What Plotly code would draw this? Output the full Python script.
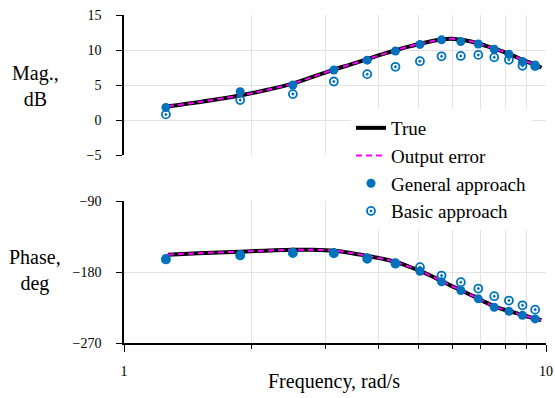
import plotly.graph_objects as go

# Frequency response: magnitude (dB) and phase (deg) versus frequency (rad/s)

# Smooth model curves
curve_freq = [1.27, 1.5, 1.885, 2.2, 2.513, 2.8, 3.142, 3.45, 3.770, 4.1, 4.398, 4.7, 5.027,
              5.35, 5.655, 5.95, 6.283, 6.6, 6.912, 7.2, 7.540, 7.85, 8.168, 8.5, 8.796,
              9.1, 9.425, 9.75]
true_mag = [1.95, 2.55, 3.5, 4.35, 5.2, 6.15, 7.2, 7.95, 8.7, 9.4, 9.95, 10.45, 10.9,
            11.25, 11.5, 11.6, 11.45, 11.25, 10.95, 10.6, 10.2, 9.85, 9.45, 9.0, 8.6,
            8.25, 7.95, 7.45]
true_phase = [-158.0, -156.2, -154.2, -152.8, -151.8, -151.8, -153.0, -155.8, -159.5, -163.2,
              -167.0, -172.5, -178.5, -185.0, -191.5, -197.2, -203.0, -208.5, -213.5, -218.5,
              -223.5, -226.8, -229.5, -232.2, -234.5, -236.8, -239.0, -241.0]
oe_mag = [1.95, 2.55, 3.5, 4.35, 5.2, 6.15, 7.2, 7.95, 8.7, 9.4, 9.95, 10.45, 10.9,
          11.25, 11.5, 11.6, 11.45, 11.25, 10.95, 10.6, 10.2, 9.85, 9.45, 9.0, 8.6,
          8.25, 7.95, 7.45]
oe_phase = [-158.0, -156.2, -154.2, -152.8, -151.8, -151.8, -153.0, -155.8, -159.5, -163.2,
            -167.0, -172.5, -178.5, -185.0, -191.5, -197.2, -203.0, -208.5, -213.5, -218.5,
            -223.5, -226.8, -229.5, -232.2, -234.5, -236.8, -239.0, -241.0]

# Estimated points
est_freq = [1.257, 1.885, 2.513, 3.142, 3.770, 4.398, 5.027, 5.655, 6.283, 6.912,
            7.540, 8.168, 8.796, 9.425]
general_mag = [1.8, 4.05, 5.0, 7.15, 8.55, 9.85, 10.8, 11.45, 11.2, 10.85,
               10.1, 9.4, 8.35, 7.85]
basic_mag = [0.8, 2.85, 3.7, 5.5, 6.55, 7.6, 8.4, 9.1, 9.15, 9.3,
             8.95, 8.6, 7.75, 7.7]
general_phase = [-162.8, -157.8, -154.8, -155.2, -162.0, -168.3, -179.0, -192.5, -203.5, -214.0,
                 -224.7, -229.8, -234.9, -239.5]
basic_phase = [-164.1, -159.0, -156.1, -156.4, -163.2, -169.5, -173.9, -184.5, -192.9, -201.0,
               -210.7, -216.2, -222.2, -227.7]

mag_ticks = [-5, 0, 5, 10, 15]
phase_ticks = [-270, -180, -90]
minor_freq = [2, 3, 4, 5, 6, 7, 8, 9]

BLUE = "#0072BD"
MAGENTA = "#FF00FF"
GRID = "#e3e3e3"
FONT = "Liberation Serif, DejaVu Serif, Liberation Sans"

fig = go.Figure()

for xa, ya, mag_or_phase in (("x", "y", 0), ("x2", "y2", 1)):
    show = mag_or_phase == 0
    fig.add_trace(go.Scatter(
        x=curve_freq, y=true_mag if mag_or_phase == 0 else true_phase,
        mode="lines", line=dict(color="black", width=4, shape="spline"),
        name="True", legendgroup="true", showlegend=show, legendrank=1,
        xaxis=xa, yaxis=ya))
    fig.add_trace(go.Scatter(
        x=curve_freq, y=oe_mag if mag_or_phase == 0 else oe_phase,
        mode="lines", line=dict(color=MAGENTA, width=2, dash="6px,4px", shape="spline"),
        name="Output error", legendgroup="oe", showlegend=show, legendrank=2,
        xaxis=xa, yaxis=ya))
    fig.add_trace(go.Scatter(
        x=est_freq, y=basic_mag if mag_or_phase == 0 else basic_phase,
        mode="markers",
        marker=dict(symbol="circle-open-dot", size=8, color=BLUE, line=dict(width=1.8, color=BLUE)),
        name="Basic approach", legendgroup="basic", showlegend=show, legendrank=4,
        xaxis=xa, yaxis=ya))
    fig.add_trace(go.Scatter(
        x=est_freq, y=general_mag if mag_or_phase == 0 else general_phase,
        mode="markers",
        marker=dict(symbol="circle", size=9, color=BLUE),
        name="General approach", legendgroup="general", showlegend=show, legendrank=3,
        xaxis=xa, yaxis=ya))

W, H = 555, 398
ML, MR, MT, MB = 124, 9, 15, 55
PW, PH = W - ML - MR, H - MT - MB


def px_x(p):
    return (p - ML) / PW


def px_y(p):
    return (H - MB - p) / PH


tick_font = dict(family=FONT, size=14, color="black")
label_font = dict(family=FONT, size=20, color="black")

fig.update_layout(
    width=W, height=H,
    margin=dict(l=ML, r=MR, t=MT, b=MB, autoexpand=False),
    paper_bgcolor="white", plot_bgcolor="white",
    font=label_font,
    xaxis=dict(
        type="log", range=[0, 1], domain=[0, 1], anchor="y",
        tickvals=[1, 10], showticklabels=False, ticks="",
        showgrid=True, gridcolor=GRID, gridwidth=1,
        minor=dict(tickvals=minor_freq, showgrid=True, gridcolor=GRID, gridwidth=1, ticks=""),
        showline=False, zeroline=False,
    ),
    yaxis=dict(
        range=[-5, 15], domain=[px_y(155), 1], anchor="x",
        tickvals=mag_ticks, ticks="outside", ticklen=6, tickcolor="black", tickwidth=1,
        tickfont=tick_font, ticklabelstandoff=12,
        showgrid=True, gridcolor=GRID, gridwidth=1,
        showline=True, linecolor="black", linewidth=1.5, zeroline=False,
    ),
    xaxis2=dict(
        type="log", range=[0, 1], domain=[0, 1], anchor="y2",
        tickvals=[1, 10], ticktext=["1", "10"], ticks="outside", ticklen=7,
        tickcolor="black", tickwidth=1, tickfont=tick_font, ticklabelstandoff=7,
        showgrid=True, gridcolor=GRID, gridwidth=1,
        minor=dict(tickvals=minor_freq, showgrid=True, gridcolor=GRID, gridwidth=1,
                   ticks="outside", ticklen=4, tickcolor="black"),
        showline=True, linecolor="black", linewidth=1.5, zeroline=False,
    ),
    yaxis2=dict(
        range=[-270, -90], domain=[0, px_y(201)], anchor="x2",
        tickvals=phase_ticks, ticks="outside", ticklen=6, tickcolor="black", tickwidth=1,
        tickfont=tick_font, ticklabelstandoff=12,
        showgrid=True, gridcolor=GRID, gridwidth=1,
        showline=True, linecolor="black", linewidth=1.5, zeroline=False,
    ),
    legend=dict(
        x=px_x(351), y=px_y(109), xanchor="left", yanchor="top",
        bgcolor="white", borderwidth=0,
        font=dict(family=FONT, size=19, color="black"),
        tracegroupgap=0, itemwidth=30,
    ),
    annotations=[
        dict(text="Mag.,<br>dB", x=px_x(35), y=px_y(86), xref="paper", yref="paper",
             xanchor="center", yanchor="middle", showarrow=False, font=label_font),
        dict(text="Phase,<br>deg", x=px_x(35), y=px_y(270), xref="paper", yref="paper",
             xanchor="center", yanchor="middle", showarrow=False, font=label_font),
        dict(text="Frequency, rad/s", x=px_x(334), y=px_y(381), xref="paper", yref="paper",
             xanchor="center", yanchor="middle", showarrow=False, font=label_font),
    ],
)

fig.write_html("out.html")
